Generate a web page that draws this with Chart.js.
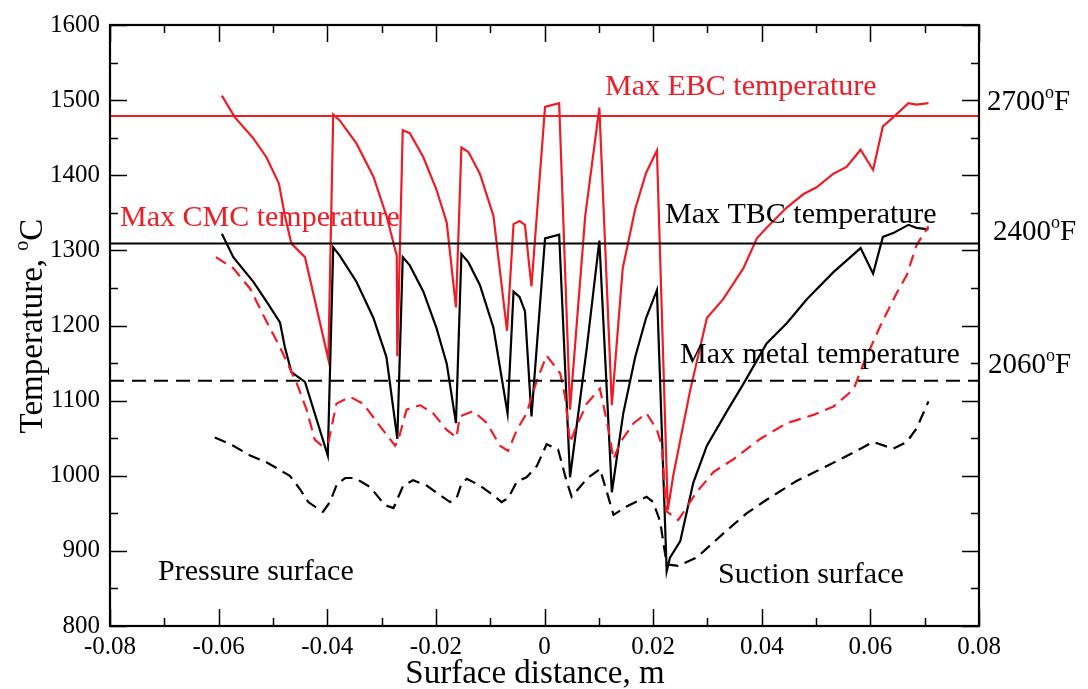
<!DOCTYPE html>
<html>
<head>
<meta charset="utf-8">
<script src="https://cdn.jsdelivr.net/npm/chart.js@4.4.1/dist/chart.umd.min.js"></script>
<style>
html,body{margin:0;padding:0;background:#fff;}
#wrap{width:1088px;height:689px;position:relative;}
</style>
</head>
<body>
<div id="wrap"><canvas id="c" width="1088" height="689"></canvas></div>
<script>
// ---------- DATA ----------
const xTickValues = [-0.08, -0.06, -0.04, -0.02, 0, 0.02, 0.04, 0.06, 0.08];
const xTickLabels = ['-0.08', '-0.06', '-0.04', '-0.02', '0', '0.02', '0.04', '0.06', '0.08'];
const yTickValues = [800, 900, 1000, 1100, 1200, 1300, 1400, 1500, 1600];
const yTickLabels = ['800', '900', '1000', '1100', '1200', '1300', '1400', '1500', '1600'];

// limit lines (°C)
const refNames = ['Max EBC temperature', 'Max TBC temperature', 'Max metal temperature'];
const refLevels = [1479, 1309, 1126.5];
const refF = ['2700', '2400', '2060'];

// EBC surface temperature (red solid)
const ebcX = [-0.0594, -0.0570, -0.0537, -0.0512, -0.0489, -0.0478, -0.0466, -0.0441, -0.0398,
  -0.0389, -0.0377, -0.0346, -0.0315, -0.0291, -0.0272, -0.0271,
  -0.0261, -0.0248, -0.0223, -0.0199, -0.0180, -0.0163,
  -0.0153, -0.0140, -0.0119, -0.0094, -0.0069,
  -0.0057, -0.0046, -0.0036, -0.0024,
  0.0001, 0.0027, 0.0047, 0.0075, 0.0101, 0.0124, 0.0144, 0.0167, 0.0187, 0.0207,
  0.0227, 0.0237, 0.0268, 0.0299, 0.0329, 0.0366, 0.0391, 0.0409, 0.0446, 0.0477, 0.0501,
  0.0532, 0.0556, 0.0582, 0.0605, 0.0623, 0.0642, 0.0670, 0.0685, 0.0707];
const ebcY = [1506, 1477, 1450, 1424, 1389, 1346, 1309, 1291, 1155,
  1481, 1473, 1442, 1398, 1346, 1293, 1159,
  1460, 1456, 1424, 1381, 1337, 1224,
  1437, 1431, 1402, 1346, 1193,
  1335, 1339, 1334, 1252,
  1491, 1496, 1088, 1346, 1490, 1094, 1276, 1355, 1403, 1433,
  954, 1000, 1113, 1210, 1235, 1276, 1316, 1330, 1357, 1375, 1384,
  1402, 1411, 1434, 1407, 1465, 1477, 1496, 1494, 1496];

// TBC / CMC surface temperature (black solid)
const tbcX = [-0.0594, -0.0573, -0.0536, -0.0512, -0.0487, -0.0478, -0.0466, -0.0441, -0.0399,
  -0.0389, -0.0377, -0.0346, -0.0315, -0.0291, -0.0271,
  -0.0261, -0.0248, -0.0223, -0.0199, -0.0180, -0.0163,
  -0.0153, -0.0140, -0.0119, -0.0094, -0.0068,
  -0.0057, -0.0046, -0.0036, -0.0024,
  0.0001, 0.0027, 0.0047, 0.0078, 0.0101, 0.0124, 0.0145, 0.0167, 0.0187, 0.0207,
  0.0225, 0.0231, 0.0250, 0.0274, 0.0299, 0.0336, 0.0366, 0.0409, 0.0446, 0.0483, 0.0532,
  0.0582, 0.0605, 0.0623, 0.0642, 0.0670, 0.0685, 0.0707];
const tbcY = [1322, 1291, 1258, 1232, 1204, 1171, 1138, 1125, 1027,
  1304, 1293, 1258, 1210, 1158, 1049,
  1291, 1280, 1245, 1197, 1149, 1070,
  1295, 1284, 1254, 1197, 1083,
  1245, 1238, 1219, 1079,
  1316, 1321, 998, 1171, 1313, 978, 1083, 1158, 1210, 1247,
  873, 891, 913, 991, 1040, 1086, 1122, 1176, 1203, 1235, 1271,
  1303, 1269, 1318, 1323, 1334, 1330, 1328];

// CMC temperature (red dashed)
const cmcX = [-0.0605, -0.0573, -0.0542, -0.0518, -0.0487, -0.0456, -0.0438, -0.0423, -0.0410, -0.0398,
  -0.0383, -0.0358, -0.0334, -0.0303, -0.0275, -0.0269,
  -0.0254, -0.0229, -0.0205, -0.0180, -0.0162,
  -0.0156, -0.0131, -0.0106, -0.0082, -0.0067,
  -0.0051, -0.0033, -0.0014, 0.0004, 0.0029, 0.0038, 0.0047,
  0.0059, 0.0078, 0.0102, 0.0118, 0.0127, 0.0139, 0.0164, 0.0188, 0.0207, 0.0216,
  0.0224, 0.0246, 0.0280, 0.0311, 0.0348, 0.0397, 0.0446, 0.0495, 0.0532, 0.0569,
  0.0587, 0.0618, 0.0649, 0.0667, 0.0685, 0.0707];
const cmcY = [1291, 1276, 1249, 1214, 1171, 1123, 1088, 1048, 1040, 1044,
  1096, 1105, 1096, 1066, 1040, 1048,
  1088, 1094, 1083, 1061, 1051,
  1079, 1086, 1070, 1040, 1033,
  1061, 1083, 1127, 1160, 1136, 1105, 1044,
  1066, 1096, 1116, 1061, 1022, 1044, 1070, 1083, 1061, 1040,
  953, 941, 978, 1005, 1022, 1049, 1070, 1081, 1092, 1115,
  1149, 1199, 1244, 1267, 1307, 1332];

// metal temperature (black dashed)
const metX = [-0.0607, -0.0573, -0.0542, -0.0512, -0.0469, -0.0450, -0.0435, -0.0417, -0.0408,
  -0.0395, -0.0382, -0.0367, -0.0349, -0.0321, -0.0294, -0.0278,
  -0.0260, -0.0242, -0.0217, -0.0192, -0.0174, -0.0162,
  -0.0153, -0.0143, -0.0119, -0.0094, -0.0079, -0.0067,
  -0.0051, -0.0033, -0.0014, 0.0004, 0.0025, 0.0041, 0.0050,
  0.0078, 0.0102, 0.0115, 0.0127, 0.0151, 0.0188, 0.0200, 0.0213,
  0.0225, 0.0246, 0.0280, 0.0329, 0.0372, 0.0409, 0.0464, 0.0520, 0.0569, 0.0605,
  0.0642, 0.0667, 0.0685, 0.0707];
const metY = [1051, 1040, 1027, 1018, 1000, 982, 965, 956, 952,
  965, 989, 997, 997, 985, 961, 957,
  987, 994, 987, 974, 965, 970,
  989, 996, 987, 974, 965, 970,
  992, 998, 1013, 1042, 1035, 992, 972,
  996, 1009, 978, 948, 959, 972, 965, 939,
  882, 880, 891, 923, 950, 968, 993, 1013, 1031, 1045,
  1036, 1045, 1063, 1099];

// ---------- STYLE ----------
const RED = '#ee1c25';
const BLACK = '#000000';
const FONT = "'Liberation Serif', 'Times New Roman', serif";

function pts(xs, ys) { return xs.map((x, i) => ({ x: x, y: ys[i] })); }
function refLine(v) { return [{ x: -0.08, y: v }, { x: 0.08, y: v }]; }

const datasets = [
  { data: refLine(refLevels[0]), borderColor: RED, borderWidth: 2 },
  { data: refLine(refLevels[1]), borderColor: BLACK, borderWidth: 2 },
  { data: refLine(refLevels[2]), borderColor: BLACK, borderWidth: 2, borderDash: [14, 8] },
  { data: pts(metX, metY), borderColor: BLACK, borderWidth: 2.2, borderDash: [12, 7] },
  { data: pts(cmcX, cmcY), borderColor: RED, borderWidth: 2.2, borderDash: [12, 7] },
  { data: pts(tbcX, tbcY), borderColor: BLACK, borderWidth: 2.2 },
  { data: pts(ebcX, ebcY), borderColor: RED, borderWidth: 2.2 }
].map(d => Object.assign({ showLine: true, pointRadius: 0, tension: 0, fill: false, borderJoinStyle: 'miter' }, d));

function drawSup(ctx, parts, x, y, size, align) {
  const big = size + 'px ' + FONT, small = Math.round(size * 0.62) + 'px ' + FONT;
  let total = 0;
  parts.forEach(p => { ctx.font = p[1] ? small : big; total += ctx.measureText(p[0]).width; });
  let cx = align === 'center' ? x - total / 2 : x;
  ctx.textAlign = 'left';
  ctx.textBaseline = 'alphabetic';
  parts.forEach(p => {
    ctx.font = p[1] ? small : big;
    ctx.fillText(p[0], cx, p[1] ? y - size * 0.42 : y);
    cx += ctx.measureText(p[0]).width;
  });
}

const decor = {
  id: 'decor',
  afterDraw(chart) {
    const ctx = chart.ctx, xs = chart.scales.x, ys = chart.scales.y, a = chart.chartArea;
    ctx.save();
    ctx.strokeStyle = '#000'; ctx.lineWidth = 2.2;
    ctx.strokeRect(a.left, a.top, a.right - a.left, a.bottom - a.top);
    ctx.lineWidth = 1.5;
    ctx.beginPath();
    for (let v = -0.08; v <= 0.0801; v += 0.01) {
      const px = Math.round(xs.getPixelForValue(v)) + 0.5;
      const major = Math.abs(Math.round(v * 100)) % 2 === 0;
      const L = major ? 17 : 8;
      ctx.moveTo(px, a.bottom); ctx.lineTo(px, a.bottom - L);
      ctx.moveTo(px, a.top); ctx.lineTo(px, a.top + L);
    }
    for (let v = 800; v <= 1600; v += 50) {
      const py = Math.round(ys.getPixelForValue(v)) + 0.5;
      const L = v % 100 === 0 ? 17 : 8;
      ctx.moveTo(a.left, py); ctx.lineTo(a.left + L, py);
      ctx.moveTo(a.right, py); ctx.lineTo(a.right - L, py);
    }
    ctx.stroke();

    ctx.textBaseline = 'alphabetic';
    ctx.textAlign = 'left';
    ctx.font = '30px ' + FONT;
    ctx.fillStyle = RED;
    ctx.fillText(refNames[0], 605, 95);
    ctx.fillText('Max CMC temperature', 120, 226);
    ctx.fillStyle = BLACK;
    ctx.fillText(refNames[1], 665, 223);
    ctx.fillText(refNames[2], 680, 363);
    ctx.fillText('Pressure surface', 158, 580);
    ctx.fillText('Suction surface', 718, 583);

    const fx = [987, 993, 988];
    const fy = [110, 240, 373];
    refLevels.forEach((v, i) => {
      drawSup(ctx, [[refF[i], false], ['o', true], ['F', false]], fx[i], fy[i], 29, 'left');
    });

    ctx.fillStyle = '#000';
    drawSup(ctx, [['Surface distance, m', false]], 535, 683, 33, 'center');
    ctx.save();
    ctx.translate(42, 326);
    ctx.rotate(-Math.PI / 2);
    drawSup(ctx, [['Temperature, ', false], ['o', true], ['C', false]], 0, 0, 33, 'center');
    ctx.restore();
    ctx.restore();
  }
};

new Chart(document.getElementById('c'), {
  type: 'scatter',
  data: { datasets: datasets },
  options: {
    responsive: false,
    animation: false,
    devicePixelRatio: 1,
    layout: { padding: { top: 16, right: 109, left: 0, bottom: 0 } },
    plugins: { legend: { display: false }, tooltip: { enabled: false } },
    scales: {
      x: {
        type: 'linear', min: -0.08, max: 0.08,
        afterBuildTicks: s => { s.ticks = xTickValues.map(v => ({ value: v })); },
        afterFit: s => { s.height = 63; },
        grid: { display: false, drawTicks: false },
        border: { display: false },
        ticks: {
          color: '#000', padding: 6, maxRotation: 0, autoSkip: false,
          font: { family: FONT, size: 25 },
          callback: (v) => { const i = xTickValues.findIndex(t => Math.abs(t - v) < 1e-9); return i >= 0 ? xTickLabels[i] : ''; }
        }
      },
      y: {
        type: 'linear', min: 800, max: 1600,
        afterBuildTicks: s => { s.ticks = yTickValues.map(v => ({ value: v })); },
        afterFit: s => { s.width = 110; },
        grid: { display: false, drawTicks: false },
        border: { display: false },
        ticks: {
          color: '#000', padding: 10, autoSkip: false,
          font: { family: FONT, size: 25 },
          callback: (v) => { const i = yTickValues.indexOf(v); return i >= 0 ? yTickLabels[i] : ''; }
        }
      }
    }
  },
  plugins: [decor]
});
</script>
</body>
</html>
